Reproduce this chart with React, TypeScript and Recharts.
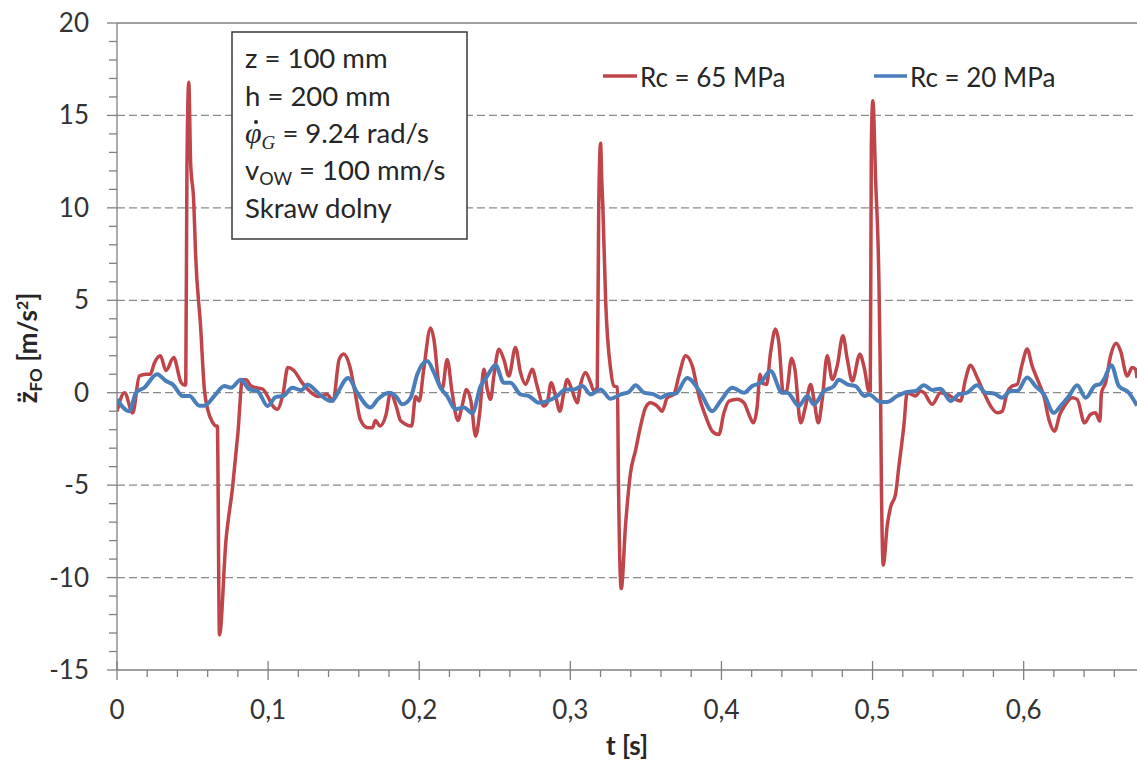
import React from 'react';
import { LineChart, Line, XAxis, YAxis, ReferenceLine } from 'recharts';

// time [s] and acceleration [m/s2]
const rc65Points: [number, number][] = [
  [0, -1.0], [0.005, 0.0], [0.0104, -1.1], [0.0148, 0.9], [0.019, 1.0], [0.022, 1.0], [0.0247, 1.6],
  [0.0287, 2.0], [0.0324, 1.2], [0.0375, 1.9], [0.0424, 0.55], [0.045, 0.4], [0.0455, 0.5],
  [0.0463, 12.3], [0.0475, 16.8], [0.0487, 12.5], [0.0508, 10.3], [0.052, 7.5], [0.0553, 3.6],
  [0.0578, 0.2], [0.06, -0.9], [0.0633, -1.6], [0.0655, -1.8], [0.0664, -1.8], [0.0678, -13.1],
  [0.0721, -8.0], [0.0765, -5.1], [0.08, -2.2], [0.083, 0.7], [0.0854, 0.7], [0.0887, 0.36],
  [0.092, 0.27], [0.0964, 0.2], [0.0997, -0.2], [0.103, -0.7], [0.106, -0.9], [0.11, 0.0],
  [0.113, 1.36], [0.117, 1.2], [0.122, 0.6], [0.126, 0.2], [0.133, -0.2], [0.139, -0.1],
  [0.143, -0.45], [0.147, 1.8], [0.15, 2.1], [0.154, 1.45], [0.158, -0.2], [0.161, -1.45],
  [0.166, -1.9], [0.169, -1.9], [0.171, -1.5], [0.174, -1.8], [0.178, -1.2], [0.181, 0.0],
  [0.185, -0.8], [0.1876, -1.5], [0.195, -1.8], [0.1976, -0.2], [0.2, -0.45], [0.203, 1.27],
  [0.2075, 3.5], [0.2097, 2.9], [0.213, 0.54], [0.2152, 0.2], [0.2185, 1.8], [0.2218, 0.0],
  [0.2256, -1.5], [0.2284, -0.7], [0.2313, 0.18], [0.2344, -0.54], [0.2373, -2.35], [0.24, -1.1],
  [0.2428, 1.27], [0.245, 0.2], [0.2472, -0.36], [0.2494, 0.9], [0.2527, 2.35], [0.256, 1.8],
  [0.2593, 0.9], [0.2637, 2.45], [0.267, 1.1], [0.2704, 0.45], [0.2748, 1.27], [0.278, 0.36],
  [0.2825, -0.72], [0.2847, -0.54], [0.2873, 0.54], [0.2902, -0.18], [0.2931, -1.0], [0.2957, 0.0],
  [0.298, 0.72], [0.3012, 0.1], [0.3046, -0.54], [0.3068, 0.45], [0.3101, 1.1], [0.3134, 0.54],
  [0.3156, 0.1], [0.3178, 0.3], [0.3188, 10.0], [0.32, 13.5], [0.3208, 11.5], [0.3215, 10.1],
  [0.3234, 4.9], [0.3267, 1.26], [0.3289, 0.36], [0.3312, 0.3], [0.3318, -4.5], [0.3337, -10.6],
  [0.3365, -7.2], [0.3398, -4.35], [0.3432, -3.1], [0.3465, -1.8], [0.3498, -0.8], [0.353, -0.54],
  [0.3575, -0.72], [0.3608, -1.0], [0.3641, -0.27], [0.3685, -0.09], [0.3718, 0.9], [0.3763, 2.0],
  [0.3807, 1.45], [0.3851, -0.18], [0.3895, -1.27], [0.3939, -2.08], [0.3983, -2.26], [0.4016, -1.1],
  [0.405, -0.45], [0.4105, -0.36], [0.4149, -0.54], [0.4182, -1.18], [0.4211, -1.63], [0.4237, -0.72],
  [0.4255, 1.0], [0.427, 0.54], [0.4299, 0.45], [0.4325, 2.17], [0.4358, 3.44], [0.438, 2.7],
  [0.4409, 0.0], [0.4431, 0.09], [0.4464, 1.87], [0.4486, 1.27], [0.4524, -1.63], [0.4557, -0.72],
  [0.459, 0.45], [0.4612, -0.36], [0.4641, -1.63], [0.4667, -0.36], [0.47, 2.0], [0.4733, 0.72],
  [0.4766, 1.45], [0.4804, 3.08], [0.4833, 1.8], [0.4866, 0.63], [0.4916, 2.08], [0.4947, 1.27],
  [0.4976, 0.09], [0.4985, 0.1], [0.4992, 13.4], [0.5002, 15.8], [0.502, 11.6], [0.5042, 6.1],
  [0.5053, 0.0], [0.5058, -4.5], [0.5071, -9.33], [0.5097, -7.2], [0.5119, -6.2], [0.5152, -5.5],
  [0.5174, -4.0], [0.5207, -1.8], [0.5229, 0.0], [0.5262, -0.1], [0.5284, -0.18], [0.5317, 0.09],
  [0.534, 0.0], [0.5395, -0.63], [0.545, 0.0], [0.5494, -0.09], [0.555, -0.36], [0.5582, -0.45],
  [0.5615, 0.72], [0.5648, 1.49], [0.5692, 0.82], [0.5737, 0.0], [0.5781, -0.72], [0.5825, -1.09],
  [0.5858, -1.0], [0.5891, 0.0], [0.5924, 0.36], [0.5957, 0.45], [0.599, 1.54], [0.6023, 2.36],
  [0.6056, 1.45], [0.61, 0.54], [0.6134, -0.18], [0.6167, -1.45], [0.6204, -2.08], [0.6239, -1.18],
  [0.6277, -0.63], [0.6321, -0.27], [0.6354, -0.36], [0.6403, -1.63], [0.6442, -1.18], [0.6475, -1.09],
  [0.6504, -1.54], [0.6515, 0.0], [0.6542, 0.54], [0.6575, 2.0], [0.6613, 2.68], [0.6641, 2.26],
  [0.6685, 0.9], [0.6718, 1.36], [0.674, 1.27], [0.675, 0.8],
];

const rc20Points: [number, number][] = [
  [0, -0.36], [0.008, -1.0], [0.0126, 0.0], [0.018, 0.27], [0.0265, 1.0], [0.0324, 0.63],
  [0.0368, 0.45], [0.0435, -0.18], [0.048, -0.18], [0.0545, -0.7], [0.0578, -0.7], [0.0644, -0.18],
  [0.071, 0.36], [0.0754, 0.27], [0.082, 0.7], [0.0876, 0.18], [0.093, 0.09], [0.0997, -0.72],
  [0.105, -0.24], [0.11, -0.18], [0.116, 0.27], [0.122, 0.13], [0.126, 0.45], [0.134, -0.09],
  [0.1416, -0.45], [0.153, 0.8], [0.159, 0.0], [0.1677, -0.8], [0.1725, -0.36], [0.18, 0.0],
  [0.1846, -0.2], [0.1888, -0.63], [0.1943, -0.27], [0.1987, 1.0], [0.2053, 1.72], [0.2097, 1.1],
  [0.2141, 0.27], [0.2185, -0.18], [0.224, -0.9], [0.2296, -0.8], [0.2351, -1.1], [0.2406, 0.36],
  [0.245, 0.9], [0.2505, 1.5], [0.256, 0.54], [0.2604, 0.54], [0.267, -0.09], [0.2726, -0.18],
  [0.2792, -0.54], [0.2847, -0.45], [0.2913, -0.18], [0.2968, 0.18], [0.3024, 0.18], [0.3079, 0.36],
  [0.3134, -0.09], [0.32, 0.18], [0.3266, -0.33], [0.3333, -0.09], [0.3388, 0.04], [0.3432, 0.4],
  [0.3487, 0.0], [0.3553, -0.09], [0.3597, -0.27], [0.3641, -0.09], [0.3697, -0.05], [0.3773, 0.8],
  [0.3862, 0.0], [0.3939, -1.0], [0.3994, -0.45], [0.4071, 0.27], [0.4149, 0.0], [0.4204, 0.36],
  [0.4259, 0.54], [0.4325, 1.18], [0.4402, 0.0], [0.4436, 0.0], [0.4512, -0.72], [0.4568, -0.18],
  [0.4612, -0.63], [0.4678, 0.09], [0.4744, 0.36], [0.4777, 0.7], [0.4833, 0.45], [0.4888, 0.36],
  [0.4947, -0.18], [0.4976, -0.09], [0.5053, -0.5], [0.5097, -0.5], [0.5163, -0.18], [0.523, 0.04],
  [0.5285, 0.09], [0.534, 0.4], [0.5395, 0.15], [0.545, 0.22], [0.5516, -0.45], [0.5571, -0.09],
  [0.5626, 0.0], [0.5692, 0.4], [0.5748, 0.0], [0.5803, -0.04], [0.5858, -0.27], [0.5913, 0.09],
  [0.5957, 0.09], [0.6023, 0.82], [0.6078, 0.36], [0.6134, -0.09], [0.62, -1.09], [0.6244, -0.72],
  [0.63, -0.18], [0.6354, 0.4], [0.641, -0.27], [0.6475, 0.4], [0.6504, 0.45], [0.6531, 0.72],
  [0.658, 1.49], [0.663, 0.36], [0.6696, 0.0], [0.675, -0.7],
];

const xMajorTicks = [0, 0.1, 0.2, 0.3, 0.4, 0.5, 0.6];
const xMinorTicks = Array.from({ length: 34 }, (_, i) => Math.round(i * 2) / 100);
const yMajorTicks = [-15, -10, -5, 0, 5, 10, 15, 20];
const yMinorTicks = Array.from({ length: 36 }, (_, i) => i - 15);
const gridLines = [15, 10, 5, 0, -5, -10];

const RED = '#C0454A';
const BLUE = '#4A7EBB';
const AXIS = '#808080';
const TEXT = '#333333';
const FONT = 'Lato, "Open Sans", sans-serif';
const SERIF = '"Liberation Serif", "DejaVu Serif", serif';

const rc65 = rc65Points.map(([t, v]) => ({ t, v }));
const rc20 = rc20Points.map(([t, v]) => ({ t, v }));

const isMajorX = (v: number) => xMajorTicks.some((m) => Math.abs(m - v) < 1e-6);
const isMajorY = (v: number) => yMajorTicks.includes(v);

const XTick = (props: any) => {
  const { x, y, payload } = props;
  const v = payload.value as number;
  if (isMajorX(v)) {
    return (
      <g>
        <line x1={x} x2={x} y1={y - 9} y2={y + 10} stroke={AXIS} strokeWidth={1.3} />
        <text x={x} y={y + 49} textAnchor="middle" fontFamily={FONT} fontSize={26} fill={TEXT}>
          {v === 0 ? '0' : v.toFixed(1).replace('.', ',')}
        </text>
      </g>
    );
  }
  return <line x1={x} x2={x} y1={y} y2={y + 7} stroke={AXIS} strokeWidth={1.3} />;
};

const YTick = (props: any) => {
  const { x, y, payload } = props;
  const v = payload.value as number;
  if (isMajorY(v)) {
    return (
      <g>
        <line x1={x - 10} x2={x} y1={y} y2={y} stroke={AXIS} strokeWidth={1.3} />
        <text x={x - 28} y={y + 9} textAnchor="end" fontFamily={FONT} fontSize={26} fill={TEXT}>
          {v}
        </text>
      </g>
    );
  }
  return <line x1={x - 8} x2={x} y1={y} y2={y} stroke={AXIS} strokeWidth={1.3} />;
};

export default function App() {
  return (
    <div style={{ position: 'absolute', left: 0, top: 0, width: 1137, height: 764, background: '#fff' }}>
      <LineChart width={1137} height={764} margin={{ top: 23, right: 0, bottom: 0, left: 0 }}>
        <XAxis
          dataKey="t"
          type="number"
          domain={[0, 0.675]}
          allowDataOverflow
          ticks={xMinorTicks}
          interval={0}
          tick={<XTick />}
          tickLine={false}
          tickSize={0}
          tickMargin={0}
          height={94}
          axisLine={{ stroke: AXIS, strokeWidth: 1.3 }}
        />
        <YAxis
          type="number"
          domain={[-15, 20]}
          allowDataOverflow
          ticks={yMinorTicks}
          interval={0}
          tick={<YTick />}
          tickLine={false}
          tickSize={0}
          tickMargin={0}
          width={117}
          axisLine={{ stroke: AXIS, strokeWidth: 1.3 }}
        />
        {gridLines.map((g) => (
          <ReferenceLine key={g} y={g} stroke="#8a8a8a" strokeWidth={1.2} strokeDasharray="8 4" />
        ))}
        <ReferenceLine y={20} stroke={AXIS} strokeWidth={1.3} />
        <Line data={rc65} dataKey="v" type="monotone" stroke={RED} strokeWidth={3.5} dot={false} isAnimationActive={false} />
        <Line data={rc20} dataKey="v" type="monotone" stroke={BLUE} strokeWidth={4} dot={false} isAnimationActive={false} />
      </LineChart>
      <svg width={1137} height={764} style={{ position: 'absolute', left: 0, top: 0, pointerEvents: 'none' }}>
        {/* parameter box */}
        <rect x={232} y={32} width={235} height={207} fill="#fff" stroke="#3a3a3a" strokeWidth={1.5} />
        <g fontFamily={FONT} fontSize={27.5} fill="#262626">
          <text x={245} y={68}>z = 100 mm</text>
          <text x={245} y={106}>h = 200 mm</text>
          <text x={245} y={143}>
            <tspan fontFamily={SERIF} fontStyle="italic" fontSize={30}>{'\u03C6'}</tspan>
            <tspan fontFamily={SERIF} fontStyle="italic" fontSize={19} dy={6}>G</tspan>
            <tspan dy={-6}> = 9.24 rad/s</tspan>
          </text>
          <text x={245} y={180}>
            v<tspan fontSize={18} dy={5}>OW</tspan>
            <tspan dy={-5}> = 100 mm/s</tspan>
          </text>
          <text x={245} y={218}>Skraw dolny</text>
        </g>
        {/* dot accent above phi */}
        <circle cx={256} cy={122} r={2} fill="#262626" />
        {/* legend */}
        <line x1={603} x2={637} y1={76} y2={76} stroke={RED} strokeWidth={3.5} />
        <text x={640} y={87} fontFamily={FONT} fontSize={26} fill="#262626">Rc = 65 MPa</text>
        <line x1={874} x2={907} y1={76} y2={76} stroke={BLUE} strokeWidth={3.5} />
        <text x={910} y={87} fontFamily={FONT} fontSize={26} fill="#262626">Rc = 20 MPa</text>
        {/* axis titles */}
        <text x={627} y={755} textAnchor="middle" fontFamily={FONT} fontSize={26} fontWeight="bold" fill="#262626">
          t [s]
        </text>
        <text
          transform="rotate(-90)"
          x={-348}
          y={37}
          textAnchor="middle"
          fontFamily={FONT}
          fontSize={26}
          fontWeight="bold"
          fill="#262626"
        >
          {'z\u0308'}
          <tspan fontSize={17} dy={5}>FO</tspan>
          <tspan dy={-5}> [m/s</tspan>
          <tspan fontSize={16} dy={-9}>2</tspan>
          <tspan dy={9}>]</tspan>
        </text>
      </svg>
    </div>
  );
}
